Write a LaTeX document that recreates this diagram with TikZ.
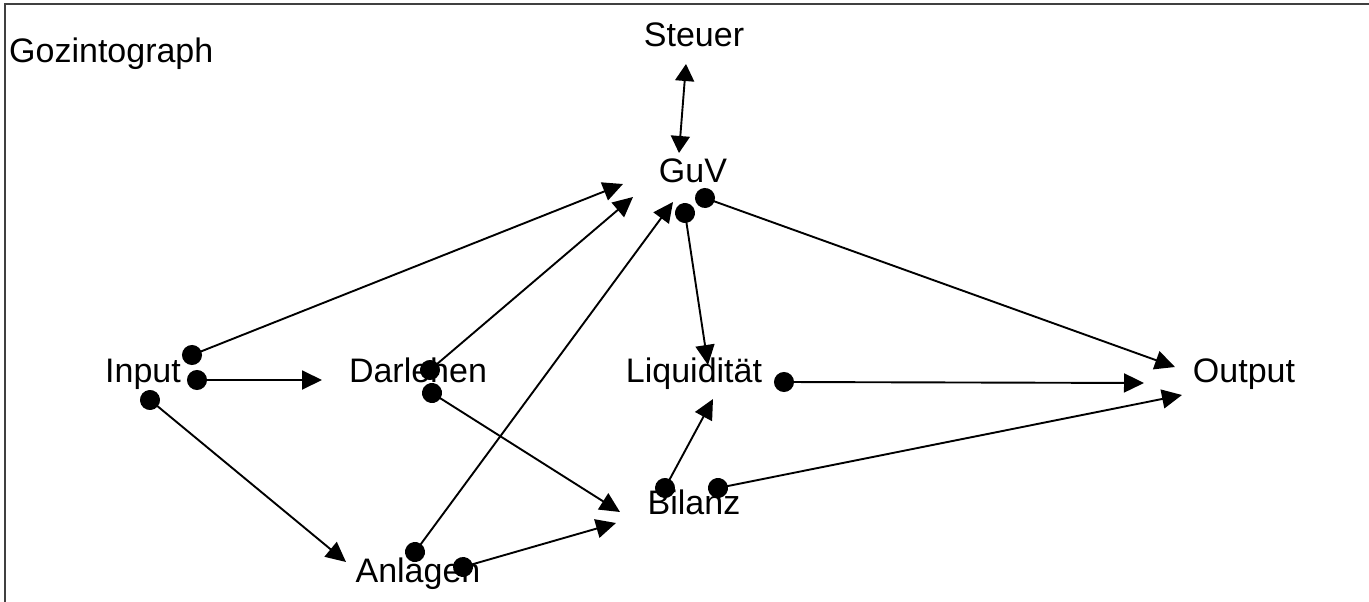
\documentclass[tikz,border=0pt]{standalone}
\usepackage{fontspec}
\setmainfont{Liberation Sans}
\usetikzlibrary{arrows.meta}

\tikzstyle{vertex}=[anchor=base, inner sep=0pt, font=\fontsize{34}{40}\selectfont]
\tikzstyle{arrow}=[line width=1.9pt, {Circle[length=20pt]}-{Triangle[length=20pt,width=19pt]}, shorten <=-10pt]
\tikzstyle{twoway}=[line width=1.9pt, {Triangle[length=17pt,width=19pt]}-{Triangle[length=17pt,width=19pt]}]
\tikzstyle{frame}=[line width=1.5pt, black!75]

\begin{document}
\begin{tikzpicture}[x=1pt, y=-1pt]
      \useasboundingbox (0,0) rectangle (1369,602);
      \draw[frame] (5,602) -- (5,4) -- (1369,4);

      \node[vertex, anchor=base west] (title) at (9, 63) {Gozintograph};
      \node[vertex] (steuer) at (694, 47) {Steuer};
      \node[vertex] (guv) at (693, 182) {GuV};
      \node[vertex] (input) at (143, 382) {Input};
      \node[vertex] (darlehen) at (418, 382) {Darlehen};
      \node[vertex] (liq) at (694, 382) {Liquidität};
      \node[vertex] (output) at (1244, 382) {Output};
      \node[vertex] (bilanz) at (694, 514) {Bilanz};
      \node[vertex] (anlagen) at (418, 582) {Anlagen};

      \draw[twoway] ([shift={(-8,17)}]steuer.base) to ([shift={(-14,-29)}]guv.base);

      \draw[arrow] ([shift={(49,-27)}]input.base) to ([shift={(-70,2)}]guv.base);
      \draw[arrow] ([shift={(54,-2)}]input.base) to ([shift={(-96,-2)}]darlehen.base);
      \draw[arrow] ([shift={(7,18)}]input.base) to ([shift={(-72,-20)}]anlagen.base);
      \draw[arrow] ([shift={(12,-12)}]darlehen.base) to ([shift={(-60,15)}]guv.base);
      \draw[arrow] ([shift={(14,11)}]darlehen.base) to ([shift={(-74,-2)}]bilanz.base);
      \draw[arrow] ([shift={(-3,-30)}]anlagen.base) to ([shift={(-20,20)}]guv.base);
      \draw[arrow] ([shift={(45,-15)}]anlagen.base) to ([shift={(-78,9)}]bilanz.base);
      \draw[arrow] ([shift={(-8,31)}]guv.base) to ([shift={(14,-17)}]liq.base);
      \draw[arrow] ([shift={(12,16)}]guv.base) to ([shift={(-69,-15)}]output.base);
      \draw[arrow] ([shift={(90,0)}]liq.base) to ([shift={(-100,1)}]output.base);
      \draw[arrow] ([shift={(-29,-26)}]bilanz.base) to ([shift={(19,17)}]liq.base);
      \draw[arrow] ([shift={(24,-26)}]bilanz.base) to ([shift={(-62,13)}]output.base);
    \end{tikzpicture}
\end{document}
